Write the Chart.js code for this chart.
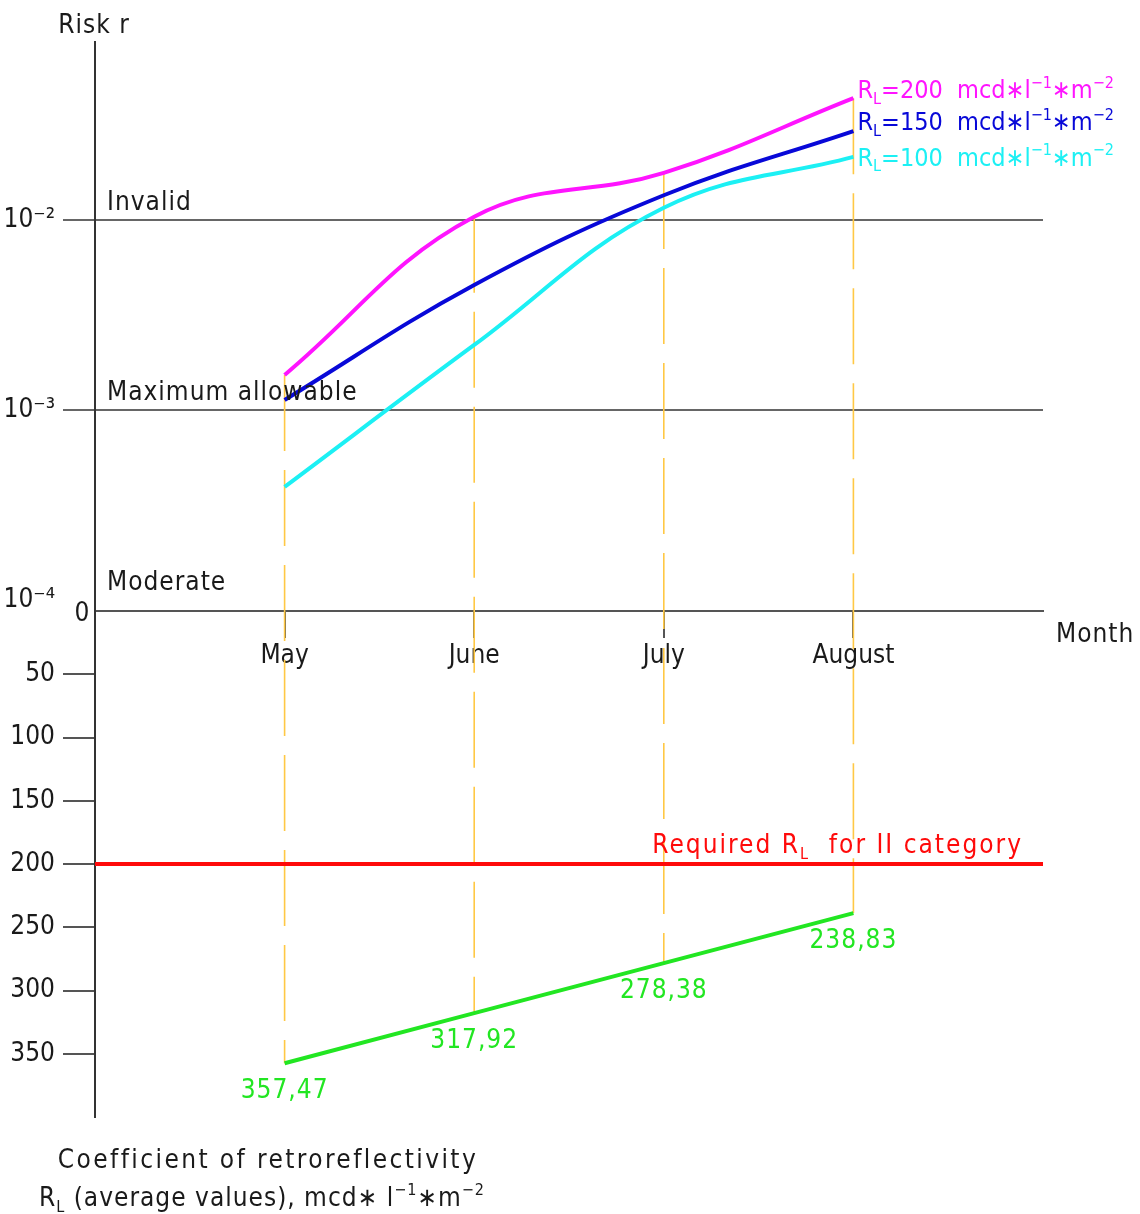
<!DOCTYPE html>
<html>
<head>
<meta charset="utf-8">
<script src="https://cdn.jsdelivr.net/npm/chart.js@4.4.1/dist/chart.umd.min.js"></script>
<style>
  body { margin: 0; background: #fff; }
  #wrap { width: 1140px; height: 1214px; position: relative; }
</style>
</head>
<body>
<div id="wrap"><canvas id="chart"></canvas></div>
<script>
// months on the x axis
const months = ['May', 'June', 'July', 'August'];

// risk r per month for each R_L level (log scale)
const riskRL200 = [1.53e-3, 1.04e-2, 1.77e-2, 4.38e-2];
const riskRL150 = [1.13e-3, 4.55e-3, 1.35e-2, 2.94e-2];
const riskRL100 = [3.94e-4, 2.2e-3, 1.16e-2, 2.15e-2];
const seriesRL = ['200', '150', '100'];

// average coefficient of retroreflectivity R_L per month
const rlAverage = [357.47, 317.92, 278.38, 238.83];
const rlAverageText = ['357,47', '317,92', '278,38', '238,83'];
const rlRequired = 200;

// tick values
const riskTicks = [1e-4, 1e-3, 1e-2];
const riskZones = ['Moderate', 'Maximum allowable', 'Invalid'];
const rlTicks = [0, 50, 100, 150, 200, 250, 300, 350];

const FONT = "'DejaVu Sans Condensed', 'DejaVu Sans', sans-serif";
const colMagenta = '#ff14ff';
const colBlue = '#0808d8';
const colCyan = '#1cf0f4';
const colGreen = '#22e622';
const colRed = '#ff0a0a';
const colDash = '#ffc845';
const colText = '#1a1a1a';

const xLabels = [''].concat(months, ['']);
const SUP = {'-': '⁻', '0': '⁰', '1': '¹', '2': '²', '3': '³', '4': '⁴', '5': '⁵'};

function supText(n) {
	return String(n).split('').map(c => SUP[c]).join('');
}

function pad(vals) {
	return [null].concat(vals, [null]);
}

// draws text with sub / superscript parts: [[text, 'sub'|'sup'|undefined], ...]
function drawRich(ctx, parts, x, y, align, color, size, spacing) {
	ctx.save();
	ctx.fillStyle = color;
	ctx.textBaseline = 'alphabetic';
	ctx.textAlign = 'left';
	ctx.letterSpacing = (spacing || 0) + 'px';
	let small = Math.round(size * 0.62);
	let widths = parts.map(p => {
		ctx.font = (p[1] ? small : size) + 'px ' + FONT;
		return ctx.measureText(p[0]).width;
	});
	let total = widths.reduce((a, b) => a + b, 0);
	let cx = x;
	if (align === 'right') cx = x - total;
	if (align === 'center') cx = x - total / 2;
	parts.forEach((p, i) => {
		ctx.font = (p[1] ? small : size) + 'px ' + FONT;
		let dy = 0;
		if (p[1] === 'sub') dy = size * 0.22;
		if (p[1] === 'sup') dy = -size * 0.42;
		ctx.fillText(p[0], cx, y + dy);
		cx += widths[i];
	});
	ctx.restore();
}

const dashPlugin = {
	id: 'dashLines',
	beforeDatasetsDraw(chart) {
		let ctx = chart.ctx;
		let risk = chart.scales.risk;
		let rl = chart.scales.rl;
		let xs = chart.scales.x;
		ctx.save();
		ctx.strokeStyle = colDash;
		ctx.lineWidth = 1.6;
		ctx.setLineDash([76, 19]);
		months.forEach((m, i) => {
			let x = xs.getPixelForValue(i + 1);
			let top = risk.getPixelForValue(Math.max(riskRL200[i], riskRL150[i], riskRL100[i]));
			let bot = rl.getPixelForValue(rlAverage[i]);
			ctx.beginPath();
			ctx.moveTo(x, top);
			ctx.lineTo(x, bot);
			ctx.stroke();
		});
		ctx.restore();
	}
};

const textPlugin = {
	id: 'texts',
	afterDraw(chart) {
		let ctx = chart.ctx;
		let area = chart.chartArea;
		let risk = chart.scales.risk;
		let rl = chart.scales.rl;
		let xs = chart.scales.x;
		let zeroY = rl.getPixelForValue(0);

		// zone names above the risk lines
		riskTicks.forEach((v, i) => {
			drawRich(ctx, [[riskZones[i]]], area.left + 12, risk.getPixelForValue(v) - 10, 'left', colText, 26, 1);
		});

		drawRich(ctx, [['0']], area.left - 13, zeroY + 10, 'center', colText, 26);
		drawRich(ctx, [['Risk r']], area.left - 1, area.top - 9, 'center', colText, 26, 1);
		drawRich(ctx, [['Month']], area.right + 13, zeroY + 31, 'left', colText, 26, 1);

		// labels of the risk curves
		let riskSets = [riskRL200, riskRL150, riskRL100];
		let cols = [colMagenta, colBlue, colCyan];
		let dy = [0, -1, 9];
		riskSets.forEach((vals, k) => {
			let last = vals.length - 1;
			let x = xs.getPixelForValue(last + 1) + 4;
			let y = risk.getPixelForValue(vals[last]) + dy[k];
			drawRich(ctx, [['R'], ['L', 'sub'], ['=' + seriesRL[k] + '  mcd∗l'], ['−1', 'sup'], ['∗m'], ['−2', 'sup']], x, y, 'left', cols[k], 25, 0);
		});

		// required level
		drawRich(ctx, [['Required R'], ['L', 'sub'], ['  for II category']], area.right - 20, rl.getPixelForValue(rlRequired) - 11, 'right', colRed, 26, 2);

		// values of the R_L line
		rlAverage.forEach((v, i) => {
			drawRich(ctx, [[rlAverageText[i]]], xs.getPixelForValue(i + 1), rl.getPixelForValue(v) + 35, 'center', colGreen, 26, 1);
		});

		// axis title at the bottom
		drawRich(ctx, [['Coefficient of retroreflectivity']], 268, 1168, 'center', colText, 26, 2.4);
		drawRich(ctx, [['R'], ['L', 'sub'], [' (average values), mcd∗ l'], ['−1', 'sup'], ['∗m'], ['−2', 'sup']], 262, 1206, 'center', colText, 26, 1);
	}
};

Chart.defaults.font.family = FONT;
Chart.defaults.font.size = 26;
Chart.defaults.color = colText;

document.addEventListener('DOMContentLoaded', () => {
	let ctx = document.getElementById('chart').getContext('2d');

	let lineStyle = {
		pointRadius: 0,
		borderWidth: 4,
		fill: false,
		tension: 0.4
	};

	let data = {
		labels: xLabels,
		datasets: [
			Object.assign({label: 'RL 200', data: pad(riskRL200), borderColor: colMagenta, yAxisID: 'risk'}, lineStyle),
			Object.assign({label: 'RL 150', data: pad(riskRL150), borderColor: colBlue, yAxisID: 'risk'}, lineStyle),
			Object.assign({label: 'RL 100', data: pad(riskRL100), borderColor: colCyan, yAxisID: 'risk'}, lineStyle),
			{label: 'Required', data: xLabels.map(() => rlRequired), borderColor: colRed, borderWidth: 4, pointRadius: 0, yAxisID: 'rl'},
			{label: 'Average RL', data: pad(rlAverage), borderColor: colGreen, borderWidth: 4, pointRadius: 0, tension: 0, yAxisID: 'rl'}
		]
	};

	let config = {
		type: 'line',
		data: data,
		plugins: [dashPlugin, textPlugin],
		options: {
			responsive: true,
			maintainAspectRatio: false,
			animation: false,
			layout: {
				padding: {top: 42, right: 97, bottom: 97, left: 0}
			},
			plugins: {
				legend: {display: false},
				tooltip: {enabled: false}
			},
			scales: {
				x: {
					type: 'category',
					offset: false,
					position: {rl: 0},
					grid: {
						drawOnChartArea: false,
						tickLength: 26,
						lineWidth: 2,
						color: c => (c.index > 0 && c.index < xLabels.length - 1) ? '#555' : 'rgba(0,0,0,0)'
					},
					border: {color: '#555', width: 2},
					ticks: {padding: 4, maxRotation: 0, autoSkip: false}
				},
				risk: {
					type: 'logarithmic',
					position: 'left',
					stack: 'v',
					stackWeight: 569,
					weight: 2,
					min: 8.75e-5,
					max: 0.0865,
					afterBuildTicks: s => { s.ticks = riskTicks.map(v => ({value: v})); },
					afterFit: s => { s.width = 95; },
					grid: {
						tickLength: 32,
						lineWidth: 2,
						color: c => (c.tick && c.tick.value === riskTicks[0]) ? 'rgba(0,0,0,0)' : '#666'
					},
					border: {color: '#333', width: 2},
					ticks: {padding: 8, callback: v => '10' + supText(Math.round(Math.log10(v)))}
				},
				rl: {
					type: 'linear',
					position: 'left',
					stack: 'v',
					stackWeight: 506,
					weight: 1,
					reverse: true,
					min: 0,
					max: 400,
					afterBuildTicks: s => { s.ticks = rlTicks.map(v => ({value: v})); },
					afterFit: s => { s.width = 95; },
					grid: {
						drawOnChartArea: false,
						tickLength: 32,
						lineWidth: 2,
						color: c => (c.tick && c.tick.value === 0) ? 'rgba(0,0,0,0)' : '#555'
					},
					border: {color: '#333', width: 2},
					ticks: {padding: 8, callback: v => v === 0 ? '' : v}
				}
			}
		}
	};

	new Chart(ctx, config);
});
</script>
</body>
</html>
